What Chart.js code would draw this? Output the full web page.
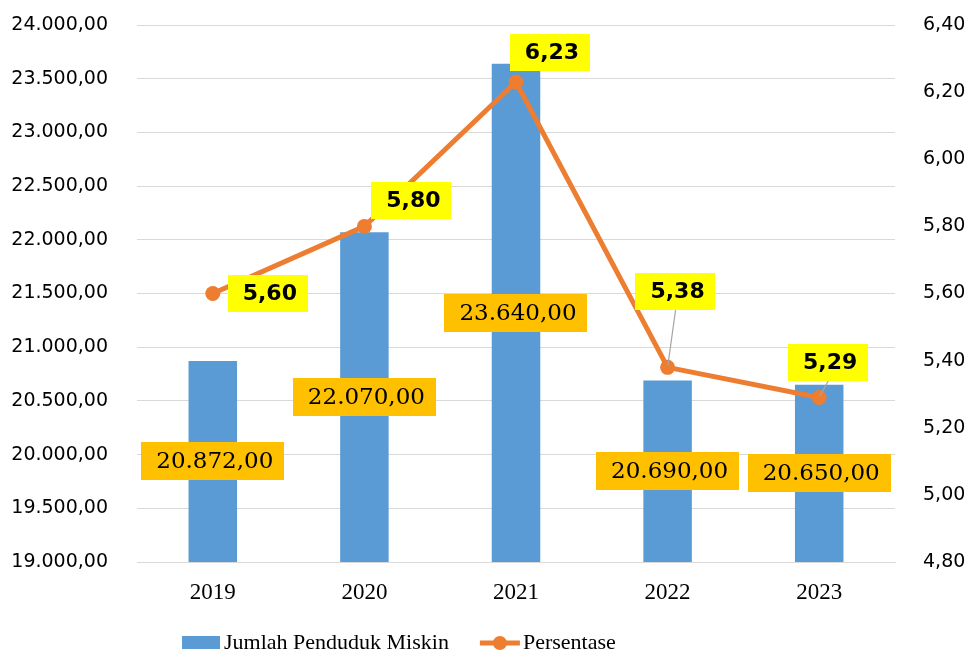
<!DOCTYPE html>
<html>
<head>
<meta charset="utf-8">
<script src="https://cdn.jsdelivr.net/npm/chart.js@4.4.1/dist/chart.umd.min.js"></script>
<style>
  html, body { margin: 0; padding: 0; background: #ffffff; }
  #wrap { width: 970px; height: 653px; position: relative; }
</style>
</head>
<body>
<div id="wrap"><canvas id="chart"></canvas></div>
<script>
// Years on the category axis
const years = ['2019', '2020', '2021', '2022', '2023'];
// Number of poor residents (left axis)
const jumlahPendudukMiskin = [20872, 22070, 23640, 20690, 20650];
// Poverty percentage (right axis)
const persentase = [5.60, 5.80, 6.23, 5.38, 5.29];
// Axis ranges: [min, max, step]
const leftAxisRange = [19000, 24000, 500];
const rightAxisRange = [4.80, 6.40, 0.20];
// Series names shown in the legend
const seriesNames = ['Jumlah Penduduk Miskin', 'Persentase'];

// Placement of the percentage call-outs relative to their points (px)
const persentaseLabelOffsets = [[55, 0], [47, -26], [34, -30], [8, -76], [9, -35]];
const persentaseLeaderLine = [false, false, false, true, true];

const BLUE = '#5B9BD5';
const ORANGE = '#ED7D31';
const GRID = '#D9D9D9';

// Indonesian number format: 20.872,00
function fmtID(v) {
  const parts = Math.abs(v).toFixed(2).split('.');
  const intPart = parts[0].replace(/\B(?=(\d{3})+(?!\d))/g, '.');
  return (v < 0 ? '-' : '') + intPart + ',' + parts[1];
}

// Value call-outs for bars and the line
const valueLabels = {
  id: 'valueLabels',
  afterDatasetsDraw(chart) {
    const ctx = chart.ctx;
    const barMeta = chart.getDatasetMeta(0);
    const lineMeta = chart.getDatasetMeta(1);
    const yScale = chart.scales.y;
    const basePx = yScale.getPixelForValue(yScale.min);
    ctx.save();
    ctx.textAlign = 'center';
    ctx.textBaseline = 'middle';

    // bar values, centred on the bar
    ctx.font = '23px "DejaVu Serif"';
    barMeta.data.forEach((bar, i) => {
      const txt = fmtID(jumlahPendudukMiskin[i]);
      const cx = bar.x;
      const cy = (yScale.getPixelForValue(jumlahPendudukMiskin[i]) + basePx) / 2;
      const w = ctx.measureText(txt).width + 26;
      const h = 38;
      ctx.fillStyle = '#FFC000';
      ctx.fillRect(Math.round(cx - w / 2), Math.round(cy - h / 2), Math.round(w), h);
      ctx.fillStyle = '#000000';
      ctx.fillText(txt, cx + 2, cy + 1);
    });

    // percentage values
    ctx.font = 'bold 22px "DejaVu Sans"';
    lineMeta.data.forEach((pt, i) => {
      const txt = fmtID(persentase[i]);
      const [dx, dy] = persentaseLabelOffsets[i];
      const cx = pt.x + dx;
      const cy = pt.y + dy;
      const w = ctx.measureText(txt).width + 26;
      const h = 37;
      if (persentaseLeaderLine[i]) {
        const sx = cx, sy = cy + h / 2;
        const ang = Math.atan2(pt.y - sy, pt.x - sx);
        ctx.strokeStyle = '#A6A6A6';
        ctx.lineWidth = 1.2;
        ctx.beginPath();
        ctx.moveTo(sx, sy);
        ctx.lineTo(pt.x - Math.cos(ang) * 2, pt.y - Math.sin(ang) * 2);
        ctx.stroke();
      }
      ctx.fillStyle = '#FFFF00';
      ctx.fillRect(Math.round(cx - w / 2), Math.round(cy - h / 2), Math.round(w), h);
      ctx.fillStyle = '#000000';
      ctx.fillText(txt, cx + 2, cy + 1);
    });
    ctx.restore();
  }
};

// Legend along the bottom edge
const bottomLegend = {
  id: 'bottomLegend',
  afterDraw(chart) {
    const ctx = chart.ctx;
    ctx.save();
    ctx.font = '22px "Liberation Serif"';
    ctx.textBaseline = 'middle';
    ctx.textAlign = 'left';
    const y = 643;
    const w0 = ctx.measureText(seriesNames[0]).width;
    const w1 = ctx.measureText(seriesNames[1]).width;
    const total = 38 + 4 + w0 + 31 + 40 + 3 + w1;
    let x = Math.round(399 - total / 2);
    ctx.fillStyle = BLUE;
    ctx.fillRect(x, y - 7, 38, 13);
    x += 38 + 4;
    ctx.fillStyle = '#000000';
    ctx.fillText(seriesNames[0], x, y);
    x += w0 + 31;
    ctx.strokeStyle = ORANGE;
    ctx.lineWidth = 5;
    ctx.beginPath();
    ctx.moveTo(x, y);
    ctx.lineTo(x + 40, y);
    ctx.stroke();
    ctx.fillStyle = ORANGE;
    ctx.beginPath();
    ctx.arc(x + 20, y, 7, 0, Math.PI * 2);
    ctx.fill();
    x += 40 + 3;
    ctx.fillStyle = '#000000';
    ctx.fillText(seriesNames[1], x, y);
    ctx.restore();
  }
};

// Vertical axes: fixed width, no extra top/bottom padding from tick spacing
function fixVerticalAxis(width) {
  return (scale) => {
    scale.width = width;
    scale.paddingTop = 0;
    scale.paddingBottom = 0;
  };
}

new Chart(document.getElementById('chart'), {
  data: {
    labels: years,
    datasets: [
      {
        type: 'bar',
        label: seriesNames[0],
        data: jumlahPendudukMiskin,
        backgroundColor: BLUE,
        borderWidth: 0,
        barPercentage: 0.32,
        categoryPercentage: 1.0,
        yAxisID: 'y',
        order: 1
      },
      {
        type: 'line',
        label: seriesNames[1],
        data: persentase,
        borderColor: ORANGE,
        backgroundColor: ORANGE,
        borderWidth: 5,
        pointRadius: 7.5,
        pointBorderWidth: 0,
        pointBackgroundColor: ORANGE,
        tension: 0,
        yAxisID: 'y1',
        order: 0
      }
    ]
  },
  options: {
    responsive: true,
    maintainAspectRatio: false,
    animation: false,
    devicePixelRatio: 1,
    layout: { padding: { top: 25, bottom: 48, left: 0, right: 0 } },
    plugins: {
      legend: { display: false },
      tooltip: { enabled: false }
    },
    scales: {
      x: {
        grid: { display: false, drawTicks: false },
        border: { display: true, color: GRID, width: 1 },
        ticks: {
          color: '#000000',
          font: { family: '"Liberation Serif"', size: 23 },
          padding: 17
        },
        afterFit(scale) { scale.height = 43; }
      },
      y: {
        position: 'left',
        min: leftAxisRange[0],
        max: leftAxisRange[1],
        grid: { color: GRID, lineWidth: 1, drawTicks: false },
        border: { display: false },
        ticks: {
          stepSize: leftAxisRange[2],
          color: '#000000',
          font: { family: '"DejaVu Sans"', size: 19 },
          padding: 29,
          callback: (v) => fmtID(v)
        },
        afterFit: fixVerticalAxis(137)
      },
      y1: {
        position: 'right',
        min: rightAxisRange[0],
        max: rightAxisRange[1],
        grid: { display: false, drawTicks: false },
        border: { display: false },
        ticks: {
          stepSize: rightAxisRange[2],
          color: '#000000',
          font: { family: '"DejaVu Sans"', size: 19 },
          padding: 28,
          callback: (v) => fmtID(v)
        },
        afterFit: fixVerticalAxis(75)
      }
    }
  },
  plugins: [valueLabels, bottomLegend]
});
</script>
</body>
</html>
